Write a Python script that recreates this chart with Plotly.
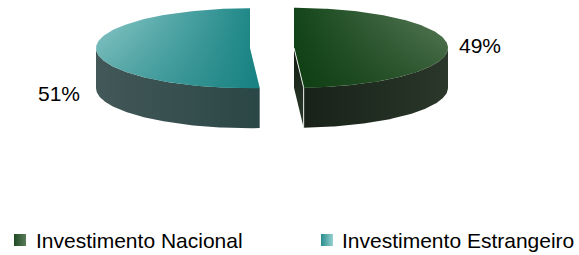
import numpy as np
import plotly.graph_objects as go

# ---- data ----
categories = ["Investimento Nacional", "Investimento Estrangeiro"]
values = [49, 51]

# ---- style / layout ----
W, H = 579, 255
CX, CY = 272, 48          # pie centre (pixels)
RX, RY = 154, 40          # ellipse radii
DEPTH = 40                # thickness of the 3D pie
EXPLODE = 22              # explode distance
FONT = "Arial, Liberation Sans, sans-serif"
FS = 21

top_grad = [
    [[0, "#14451a"], [1, "#5b7d5b"]],     # Nacional
    [[0, "#8ecaca"], [1, "#1a8484"]],     # Estrangeiro
]
top_shade = [
    [[0, "rgba(10,55,12,0.55)"], [1, "rgba(10,55,12,0)"]],
    [[0, "rgba(20,125,125,0.45)"], [1, "rgba(20,125,125,0)"]],
]
side_grad = [
    [[0, "#182218"], [1, "#2b372b"]],
    [[0, "#435858"], [1, "#2b4646"]],
]
face_color = ["#1c281c", "#2d4747"]
legend_grad = [("#5a7d5a", "#1f4a22"), ("#96d0d0", "#2a8c8c")]
label_pos = [(480, 45), (59, 93)]
legend_sym_x = [20, 327]
legend_txt_x = [34, 340]
legend_y = 240


def pt(theta_deg, ox, oy, dz=0.0):
    t = np.radians(theta_deg)
    return ox + RX * np.sin(t), oy - RY * np.cos(t) + dz


fig = go.Figure()

total = float(sum(values))
start = 0.0
for i, (name, v) in enumerate(zip(categories, values)):
    span = 360.0 * v / total
    t1, t2 = start, start + span
    mid = (t1 + t2) / 2
    ox = CX + EXPLODE * np.sin(np.radians(mid))
    oy = CY - EXPLODE * (RY / RX) * np.cos(np.radians(mid))

    # side wall (front half only: 90..270)
    a1, a2 = max(t1, 90.0), min(t2, 270.0)
    if a2 > a1:
        th = np.linspace(a1, a2, 120)
        xs_t, ys_t = pt(th, ox, oy)
        xs_b, ys_b = pt(th[::-1], ox, oy, DEPTH)
        fig.add_trace(go.Scatter(
            x=np.concatenate([xs_t, xs_b, xs_t[:1]]),
            y=np.concatenate([ys_t, ys_b, ys_t[:1]]),
            mode="lines", line=dict(width=0), fill="toself",
            fillgradient=dict(type="horizontal", colorscale=side_grad[i]),
            hoverinfo="skip", showlegend=False))

    # cut face at end angle (visible if 0 < t2 < 180)
    hl = None
    if 0 < t2 < 180:
        px, py = pt(t2, ox, oy)
        fig.add_trace(go.Scatter(
            x=[ox, px, px, ox, ox], y=[oy, py, py + DEPTH, oy + DEPTH, oy],
            mode="lines", line=dict(width=0), fill="toself",
            fillgradient=dict(type="vertical",
                              colorscale=[[0, "#2c3d2c"], [1, "#121a12"]]),
            hoverinfo="skip", showlegend=False))
        hl = ([ox, px, px], [oy, py, py + DEPTH])
    # cut face at start angle (visible if 180 < t1 < 360)
    if 180 < t1 < 360:
        px, py = pt(t1, ox, oy)
        fig.add_trace(go.Scatter(
            x=[ox, px, px, ox, ox], y=[oy, py, py + DEPTH, oy + DEPTH, oy],
            mode="lines", line=dict(width=0), fill="toself",
            fillcolor=face_color[i], hoverinfo="skip", showlegend=False))

    # top surface (horizontal gradient + vertical shading overlay)
    th = np.linspace(t1, t2, 200)
    xs, ys = pt(th, ox, oy)
    px_top = np.concatenate([[ox], xs, [ox]])
    py_top = np.concatenate([[oy], ys, [oy]])
    fig.add_trace(go.Scatter(
        x=px_top, y=py_top, mode="lines", line=dict(width=0), fill="toself",
        fillgradient=dict(type="horizontal", colorscale=top_grad[i]),
        hoverinfo="skip", showlegend=False))
    fig.add_trace(go.Scatter(
        x=px_top, y=py_top, mode="lines", line=dict(width=0), fill="toself",
        fillgradient=dict(type="vertical", colorscale=top_shade[i]),
        hoverinfo="skip", showlegend=False))

    if hl is not None:
        fig.add_trace(go.Scatter(
            x=hl[0], y=hl[1], mode="lines",
            line=dict(width=1, color="rgba(255,255,255,0.9)"),
            hoverinfo="skip", showlegend=False))

    # percentage label
    fig.add_annotation(x=label_pos[i][0], y=label_pos[i][1], text=f"{v}%",
                       showarrow=False, font=dict(family=FONT, size=FS, color="#000"),
                       xanchor="center", yanchor="middle")

    # legend swatch + text
    fig.add_trace(go.Scatter(
        x=[legend_sym_x[i]], y=[legend_y], mode="markers",
        marker=dict(symbol="square", size=12, color=legend_grad[i][1],
                    gradient=dict(type="horizontal", color=legend_grad[i][0]),
                    line=dict(width=0)),
        hoverinfo="skip", showlegend=False))
    fig.add_annotation(x=legend_txt_x[i], y=legend_y, text=name, showarrow=False,
                       font=dict(family=FONT, size=FS, color="#000"),
                       xanchor="left", yanchor="middle")
    start = t2

fig.update_layout(
    width=W, height=H, margin=dict(l=0, r=0, t=0, b=0),
    paper_bgcolor="white", plot_bgcolor="white",
    xaxis=dict(range=[0, W], visible=False, fixedrange=True),
    yaxis=dict(range=[H, 0], visible=False, fixedrange=True),
    showlegend=False,
)

fig.write_html(
    "out.html",
    config={"displayModeBar": False},
    post_script="document.body.style.margin='0px';document.body.style.padding='0px';"
                "document.body.style.overflow='hidden';",
)
